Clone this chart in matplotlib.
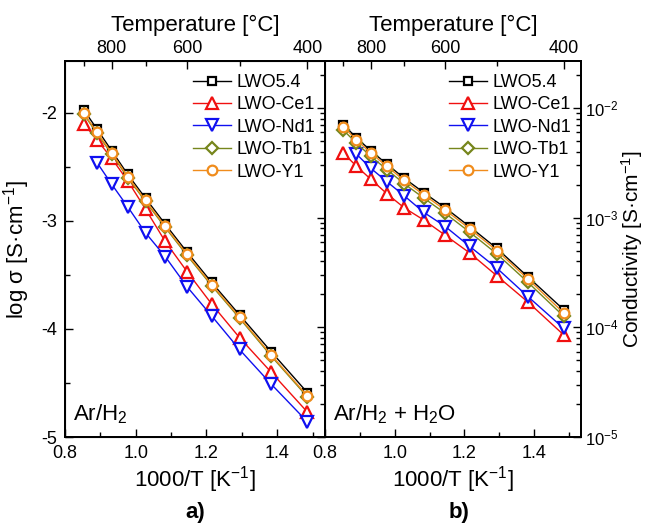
import numpy as np
import matplotlib
matplotlib.use("Agg")
import matplotlib.pyplot as plt
from matplotlib.ticker import MultipleLocator, LogLocator, NullFormatter, FixedLocator

plt.rcParams['font.family'] = ['Liberation Sans', 'DejaVu Sans']
plt.rcParams['mathtext.fontset'] = 'custom'
plt.rcParams['mathtext.rm'] = 'Liberation Sans'
plt.rcParams['mathtext.it'] = 'Liberation Sans:italic'
plt.rcParams['mathtext.default'] = 'regular'
plt.rcParams['axes.unicode_minus'] = False

# measurement temperatures (deg C), same for every sample
temp_c = np.array([900, 850, 800, 750, 700, 650, 600, 550, 500, 450, 400])

samples = ['LWO5.4', 'LWO-Ce1', 'LWO-Nd1', 'LWO-Tb1', 'LWO-Y1']

# log sigma [S/cm] in dry Ar/H2
dry_lwo54 = [-1.97, -2.15, -2.35, -2.57, -2.79, -3.03, -3.29, -3.57, -3.87, -4.21, -4.59]
dry_ce1 = [-2.10, -2.25, -2.42, -2.63, -2.89, -3.19, -3.47, -3.77, -4.08, -4.40, -4.77]
dry_nd1 = [np.nan, -2.46, -2.66, -2.87, -3.11, -3.33, -3.61, -3.88, -4.19, -4.51, -4.86]
dry_tb1 = [-2.01, -2.19, -2.38, -2.60, -2.82, -3.06, -3.32, -3.60, -3.90, -4.25, -4.63]
dry_y1 = [-2.00, -2.18, -2.37, -2.59, -2.81, -3.05, -3.31, -3.59, -3.89, -4.24, -4.62]

# log sigma [S/cm] in wet Ar/H2 + H2O
wet_lwo54 = [-2.15, -2.27, -2.39, -2.51, -2.64, -2.77, -2.91, -3.08, -3.28, -3.54, -3.84]
wet_ce1 = [-2.41, -2.53, -2.65, -2.78, -2.91, -3.02, -3.16, -3.32, -3.53, -3.77, -4.07]
wet_nd1 = [np.nan, -2.42, -2.55, -2.67, -2.80, -2.95, -3.08, -3.26, -3.46, -3.72, -4.01]
wet_tb1 = [-2.20, -2.32, -2.44, -2.56, -2.69, -2.82, -2.96, -3.13, -3.33, -3.59, -3.90]
wet_y1 = [-2.17, -2.29, -2.41, -2.53, -2.66, -2.79, -2.93, -3.10, -3.30, -3.56, -3.87]

dry = [dry_lwo54, dry_ce1, dry_nd1, dry_tb1, dry_y1]
wet = [wet_lwo54, wet_ce1, wet_nd1, wet_tb1, wet_y1]

colors = ['black', '#f01010', '#1010f0', '#76861c', '#f08c1c']
markers = ['s', '^', 'v', 'D', 'o']
msizes = [5.5, 8, 8, 6.5, 7]

inv_t = 1000 / (temp_c + 273.15)
xlim = (0.8, 1.535)

fig = plt.figure(figsize=(6.45, 5.23), dpi=100)
ax1 = fig.add_axes([0.1008, 0.1644, 0.403, 0.719])
ax2 = fig.add_axes([0.5039, 0.1644, 0.397, 0.719])

for i in range(len(samples)):
    kw = dict(color=colors[i], marker=markers[i], ms=msizes[i], mfc='white',
              mec=colors[i], mew=1.6, lw=1.0, label=samples[i])
    ax1.plot(inv_t, dry[i], **kw)
    ax2.plot(inv_t, 10 ** np.array(wet[i]), **kw)

ax1.set_xlim(*xlim)
ax1.set_ylim(-5, -1.52)
ax2.set_xlim(*xlim)
ax2.set_yscale('log')
ax2.set_ylim(1e-5, 10 ** -1.57)

tick_kw = dict(direction='in', labelsize=13)
for ax in (ax1, ax2):
    ax.xaxis.set_major_locator(MultipleLocator(0.2))
    ax.xaxis.set_minor_locator(MultipleLocator(0.1))
    ax.xaxis.set_major_formatter(plt.FormatStrFormatter('%.1f'))
    ax.tick_params(axis='x', which='both', top=False, **tick_kw)
    ax.tick_params(axis='x', which='major', length=6, width=1, pad=6)
    ax.tick_params(axis='x', which='minor', length=3.5, width=1)
    for s in ax.spines.values():
        s.set_linewidth(1.3)
    ax.set_xlabel('1000/T [K$^{-1}$]', fontsize=16, labelpad=1)
    ax.legend(loc='upper right', bbox_to_anchor=(0.99, 0.985), frameon=False,
              fontsize=13, numpoints=1, handlelength=2.1, handletextpad=0.3,
              labelspacing=0.3, borderaxespad=0.0, borderpad=0.4)

    # top axis in deg C
    axt = ax.twiny()
    axt.set_xlim(*xlim)
    axt.xaxis.set_major_locator(FixedLocator(1000 / (np.array([800, 600, 400]) + 273.15)))
    axt.xaxis.set_minor_locator(FixedLocator(1000 / (np.array([900, 700, 500]) + 273.15)))
    axt.set_xticklabels(['800', '600', '400'])
    axt.tick_params(axis='x', which='both', **tick_kw)
    axt.tick_params(axis='x', which='major', length=6, width=1, pad=3)
    axt.tick_params(axis='x', which='minor', length=3.5, width=1)
    axt.set_xlabel('Temperature [°C]', fontsize=16, labelpad=6)
    for s in axt.spines.values():
        s.set_linewidth(1.3)

# left panel: linear log sigma
ax1.yaxis.set_major_locator(MultipleLocator(1))
ax1.yaxis.set_minor_locator(MultipleLocator(0.5))
ax1.yaxis.set_major_formatter(plt.FormatStrFormatter('%d'))
ax1.tick_params(axis='y', which='both', left=True, right=False, **tick_kw)
ax1.tick_params(axis='y', which='major', length=6, width=1, pad=6)
ax1.tick_params(axis='y', which='minor', length=3.5, width=1)
ax1.set_ylabel('log σ [S·cm$^{-1}$]', fontsize=16, labelpad=6)

# log ticks along the shared border
axr = ax1.twinx()
axr.set_yscale('log')
axr.set_ylim(ax2.get_ylim())
axr.yaxis.set_major_locator(LogLocator(base=10))
axr.yaxis.set_minor_locator(LogLocator(base=10, subs=np.arange(2, 10)))
axr.yaxis.set_minor_formatter(NullFormatter())
axr.tick_params(axis='y', which='both', direction='in', labelright=False)
axr.tick_params(axis='y', which='major', length=6, width=1)
axr.tick_params(axis='y', which='minor', length=3.5, width=1)

# right panel: conductivity on log axis
ax2.yaxis.tick_right()
ax2.yaxis.set_label_position('right')
ax2.yaxis.set_major_locator(LogLocator(base=10))
ax2.yaxis.set_minor_locator(LogLocator(base=10, subs=np.arange(2, 10)))
ax2.yaxis.set_minor_formatter(NullFormatter())
ax2.tick_params(axis='y', which='both', left=False, right=True, direction='in', labelsize=12)
ax2.tick_params(axis='y', which='major', length=6, width=1, pad=3)
ax2.tick_params(axis='y', which='minor', length=3.5, width=1)
ax2.set_ylabel('Conductivity [S·cm$^{-1}$]', fontsize=15, labelpad=0)

ax1.text(0.03, 0.03, 'Ar/H$_2$', transform=ax1.transAxes, fontsize=16, va='bottom', ha='left')
ax2.text(0.03, 0.03, 'Ar/H$_2$ + H$_2$O', transform=ax2.transAxes, fontsize=16, va='bottom', ha='left')

fig.text(0.302, 0.021, 'a)', fontsize=16, fontweight='bold', ha='center', va='center')
fig.text(0.712, 0.021, 'b)', fontsize=16, fontweight='bold', ha='center', va='center')

fig.savefig('out.png', dpi=100)
